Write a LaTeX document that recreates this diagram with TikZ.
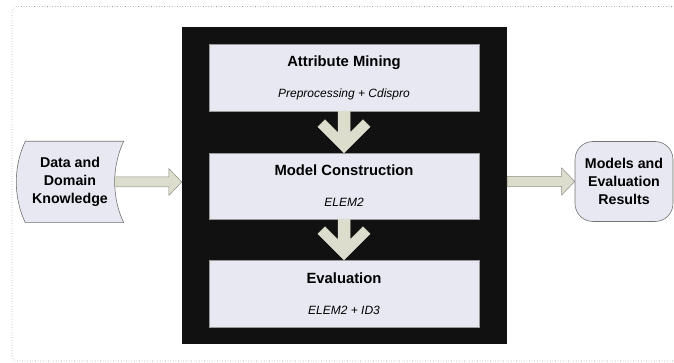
\documentclass[tikz,border=0pt]{standalone}
\usepackage{fontspec}
\setmainfont{Liberation Sans}
\usetikzlibrary{calc,positioning}

\definecolor{stagefill}{HTML}{E7E8F1}
\definecolor{arrowfill}{HTML}{DCDDCC}
\definecolor{arrowline}{HTML}{8E8E86}
\definecolor{pipefill}{HTML}{111111}

% flat block arrow, left to right
\newcommand{\sidearrow}[2]{%
  \draw[blockarrow] ($(#1)+(0,5)$) -- ($(#2)+(-13,5)$) -- ($(#2)+(-13,13.5)$)
    -- (#2) -- ($(#2)+(-13,-13.5)$) -- ($(#2)+(-13,-5)$) -- ($(#1)+(0,-5)$) -- cycle;}
% chevron arrow, top to bottom
\newcommand{\stagearrow}[2]{%
  \draw[blockarrow,draw=arrowfill] ($(#1)+(-6,0)$) -- ($(#2)+(-6,20)$) -- ($(#2)+(-19,33)$)
    -- ($(#2)+(-26,26)$) -- (#2) -- ($(#2)+(26,26)$) -- ($(#2)+(19,33)$)
    -- ($(#2)+(6,20)$) -- ($(#1)+(6,0)$) -- cycle;}
\newcommand{\toolname}[1]{{\fontsize{12}{13}\selectfont\mdseries\itshape #1}}

\begin{document}
\begin{tikzpicture}[x=1pt,y=1pt,
  stage/.style={draw=gray!80,fill=stagefill,minimum width=270,minimum height=67,
    inner sep=0,align=center,font=\fontsize{14.8}{17}\selectfont\bfseries},
  sidetext/.style={minimum width=107,minimum height=81,inner sep=0,align=center,
    font=\fontsize{14.2}{18}\selectfont\bfseries},
  sideline/.style={draw=gray!90!black,fill=stagefill,line width=0.6pt},
  blockarrow/.style={fill=arrowfill,draw=arrowline,line width=0.5pt,line join=miter}]
\useasboundingbox (0,0) rectangle (674,363);
\draw[gray!80,dotted,line width=0.6pt,rounded corners=6]
  (690,356.5) -- (12,356.5) -- (12,2) -- (690,2);

% pipeline in the middle
\node[fill=pipefill,minimum width=325,minimum height=317,inner sep=0] (pipeline) at (344.5,177.5) {};
\node[stage] (mining) at (344,285.5) {Attribute Mining\\[14pt]\toolname{Preprocessing + Cdispro}};
\node[stage,minimum height=66] (model) at (344,177) {Model Construction\\[14pt]\toolname{ELEM2}};
\node[stage] (eval) at (344,69.5) {Evaluation\\[14pt]\toolname{ELEM2 + ID3}};
\stagearrow{mining.south}{model.north}
\stagearrow{model.south}{eval.north}

% input, curved data shape
\node[sidetext] (data) at (70,181) {};
\draw[sideline] ([xshift=9]data.north west) -- (data.north east)
  .. controls ($(data.north east)+(-12,-25)$) and ($(data.south east)+(-12,25)$) .. (data.south east)
  -- ([xshift=9]data.south west)
  .. controls ($(data.south west)+(-3,25)$) and ($(data.north west)+(-3,-25)$) .. ([xshift=9]data.north west) -- cycle;
\node[sidetext] at (data) {Data and\\Domain\\Knowledge};

% output
\node[sidetext,sideline,minimum width=98,minimum height=80,rounded corners=18] (result) at (624,181.5) {Models and\\Evaluation\\Results};

\coordinate (datatip) at ([xshift=-9]data.east);
\coordinate (pipein) at (pipeline.west |- datatip);
\coordinate (pipeout) at (pipeline.east |- result.west);
\sidearrow{datatip}{pipein}
\sidearrow{pipeout}{result.west}
\end{tikzpicture}
\end{document}
